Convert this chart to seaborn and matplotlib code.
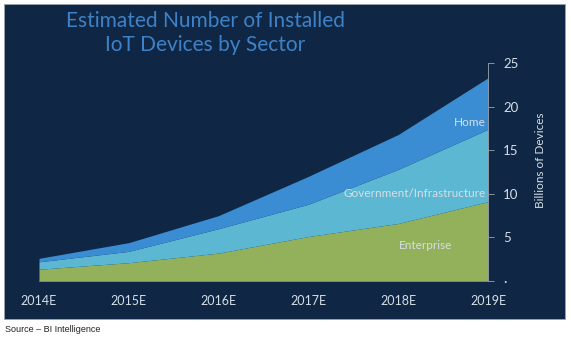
import matplotlib
matplotlib.use("Agg")
import matplotlib.pyplot as plt
from matplotlib.patches import Rectangle
import seaborn as sns
import numpy as np

# Data (billions of devices; layered totals converted to per-sector)
years = ["2014E", "2015E", "2016E", "2017E", "2018E", "2019E"]
enterprise = [1.35, 2.1, 3.2, 5.1, 6.6, 9.1]
government_cum = [2.2, 3.4, 6.0, 8.8, 12.8, 17.4]
home_cum = [2.6, 4.4, 7.5, 12.0, 16.8, 23.3]
government = [g - e for g, e in zip(government_cum, enterprise)]
home = [h - g for h, g in zip(home_cum, government_cum)]
ytick_vals = [0, 5, 10, 15, 20, 25]
ytick_labels = ["\u00b7", "5", "10", "15", "20", "25"]

sns.set_style("white")
plt.rcParams["font.family"] = ["Lato", "DejaVu Sans"]

navy = "#0f2744"
c_ent = "#93b05a"
c_gov = "#5cb7d3"
c_home = "#3a8dd3"
txt = "#d6dee6"

fig = plt.figure(figsize=(5.72, 3.4), dpi=100)
fig.patch.set_facecolor("white")
W, H = 572, 340

bg = fig.add_axes([0, 0, 1, 1], zorder=-5)
bg.set_xlim(0, W)
bg.set_ylim(H, 0)
bg.axis("off")
bg.add_patch(Rectangle((4, 4), 561, 315, facecolor=navy, edgecolor="#9aa4ad",
                       linewidth=0.6))

ax = fig.add_axes([39 / W, (H - 281) / H, 449 / W, (281 - 63) / H], zorder=1)
ax.set_facecolor("none")
x = np.arange(len(years))
ax.stackplot(x, enterprise, government, home, colors=[c_ent, c_gov, c_home],
             linewidth=0)
ax.set_xlim(0, len(years) - 1)
ax.set_ylim(0, 25)

ax.set_xticks(x)
ax.set_xticklabels(years, fontsize=9, color=txt)
ax.yaxis.tick_right()
ax.yaxis.set_label_position("right")
ax.set_yticks(ytick_vals)
ax.set_yticklabels(ytick_labels, fontsize=9.5, color=txt)
ax.tick_params(axis="y", direction="out", length=4, width=0.6, color="#9aa4ad", pad=7)
ax.tick_params(axis="x", direction="out", length=3, width=0.6, color="#9aa4ad", pad=7)
for s in ["top", "left"]:
    ax.spines[s].set_visible(False)
ax.spines["right"].set_color("#9aa4ad")
ax.spines["right"].set_linewidth(0.6)
ax.spines["bottom"].set_color("#9aa4ad")
ax.spines["bottom"].set_linewidth(0.4)
ax.set_ylabel("Billions of Devices", fontsize=8.5, color=txt, labelpad=12)
ax.yaxis.label.set_position((1, 0.555))

ax.text(4.8, 18.2, "Home", fontsize=8.5, color=txt, ha="center", va="center")
ax.text(4.98, 10.0, "Government/Infrastructure", fontsize=8.5, color=txt,
        ha="right", va="center")
ax.text(4.3, 4.1, "Enterprise", fontsize=8.5, color=txt, ha="center", va="center")

fig.text(205 / W, 1 - 33 / H, "Estimated Number of Installed\nIoT Devices by Sector",
         fontsize=15, color="#3d82c8", ha="center", va="center",
         fontweight="normal", linespacing=1.25)
fig.text(5 / W, 1 - 329 / H, "Source \u2013 BI Intelligence", fontsize=6.5,
         color="#222222", ha="left", va="center", family=["Liberation Sans"])

fig.savefig("out.png", dpi=100, facecolor="white")
